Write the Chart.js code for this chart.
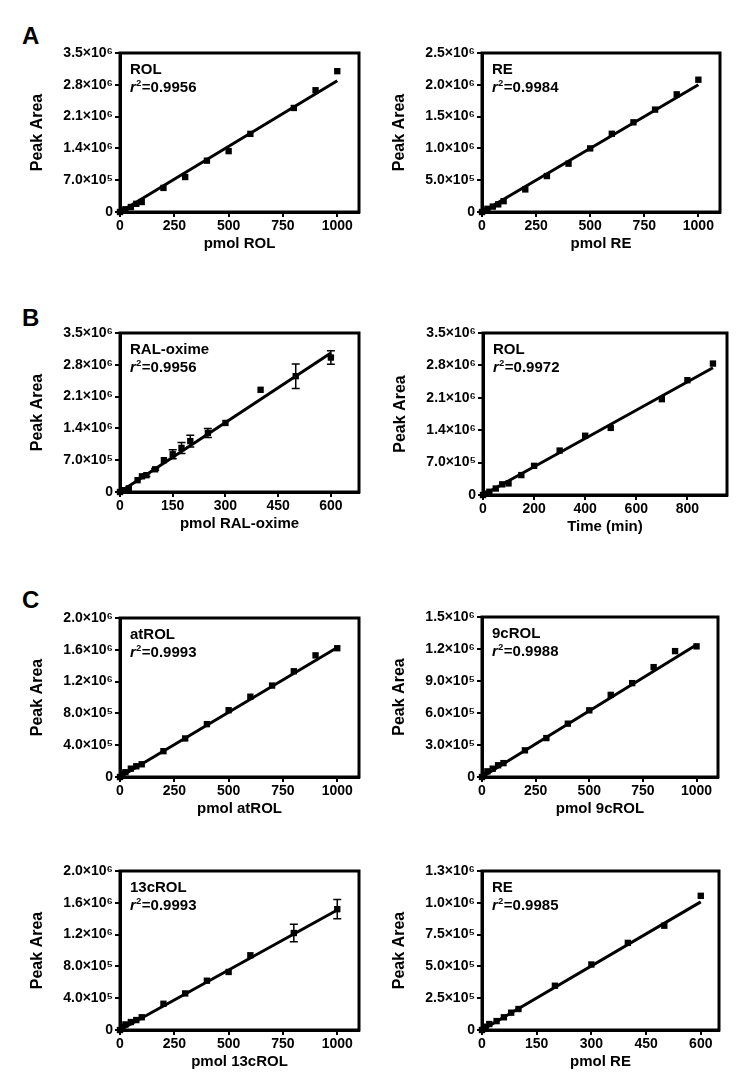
<!DOCTYPE html>
<html><head><meta charset="utf-8">
<script src="https://cdn.jsdelivr.net/npm/chart.js@4/dist/chart.umd.min.js"></script>
<style>
html,body{margin:0;padding:0;background:#fff;}
#wrap{position:relative;width:750px;height:1087px;overflow:hidden;background:#fff;}
#wrap canvas{position:absolute;}
.lbl{position:absolute;font:bold 24px "Liberation Sans",Arial,sans-serif;line-height:24px;color:#000;}
</style></head><body>
<div id="wrap">
<div class="lbl" style="left:22px;top:24px">A</div>
<div class="lbl" style="left:22px;top:306px">B</div>
<div class="lbl" style="left:22px;top:588px">C</div>
</div>
<script>
// ---------- DATA ----------
// Panel A left: ROL
const aRolX = [0, 10, 25, 50, 75, 100, 200, 300, 400, 500, 600, 800, 900, 1000];
const aRolY = [0, 0.03e6, 0.06e6, 0.11e6, 0.18e6, 0.22e6, 0.53e6, 0.77e6, 1.13e6, 1.34e6, 1.72e6, 2.29e6, 2.68e6, 3.10e6];
const aRolFitX = [0, 1000];
const aRolFitY = [0, 2.89e6];
// Panel A right: RE
const aReX = [0, 10, 25, 50, 75, 100, 200, 300, 400, 500, 600, 700, 800, 900, 1000];
const aReY = [0, 0.02e6, 0.05e6, 0.085e6, 0.12e6, 0.17e6, 0.355e6, 0.565e6, 0.76e6, 1.0e6, 1.23e6, 1.41e6, 1.61e6, 1.85e6, 2.08e6];
const aReFitX = [0, 1000];
const aReFitY = [0, 2.0e6];
// Panel B left: RAL-oxime (with SD)
const bOxX = [0, 12.5, 25, 50, 62.5, 75, 100, 125, 150, 175, 200, 250, 300, 400, 500, 600];
const bOxY = [0, 0.04e6, 0.08e6, 0.26e6, 0.345e6, 0.37e6, 0.50e6, 0.70e6, 0.83e6, 0.97e6, 1.12e6, 1.30e6, 1.52e6, 2.25e6, 2.55e6, 2.96e6];
const bOxErr = [0, 0, 0, 0, 0, 0.03e6, 0.02e6, 0, 0.10e6, 0.12e6, 0.13e6, 0.10e6, 0, 0, 0.27e6, 0.15e6];
const bOxFitX = [0, 600];
const bOxFitY = [0, 3.06e6];
// Panel B right: ROL vs time
const bTimeX = [0, 10, 25, 50, 75, 100, 150, 200, 300, 400, 500, 700, 800, 900];
const bTimeY = [0, 0.03e6, 0.07e6, 0.14e6, 0.23e6, 0.25e6, 0.43e6, 0.63e6, 0.96e6, 1.28e6, 1.45e6, 2.07e6, 2.48e6, 2.84e6];
const bTimeFitX = [0, 900];
const bTimeFitY = [0, 2.75e6];
// Panel C: atROL
const cAtX = [0, 10, 25, 50, 75, 100, 200, 300, 400, 500, 600, 700, 800, 900, 1000];
const cAtY = [0, 0.04e6, 0.06e6, 0.105e6, 0.135e6, 0.16e6, 0.325e6, 0.485e6, 0.665e6, 0.84e6, 1.01e6, 1.15e6, 1.33e6, 1.53e6, 1.62e6];
const cAtFitX = [0, 1000];
const cAtFitY = [0, 1.63e6];
// Panel C: 9cROL
const c9X = [0, 10, 25, 50, 75, 100, 200, 300, 400, 500, 600, 700, 800, 900, 1000];
const c9Y = [0, 0.02e6, 0.053e6, 0.078e6, 0.11e6, 0.13e6, 0.25e6, 0.365e6, 0.50e6, 0.625e6, 0.77e6, 0.88e6, 1.03e6, 1.18e6, 1.225e6];
const c9FitX = [0, 1000];
const c9FitY = [0, 1.24e6];
// Panel C: 13cROL (with SD)
const c13X = [0, 10, 25, 50, 75, 100, 200, 300, 400, 500, 600, 800, 1000];
const c13Y = [0, 0.04e6, 0.07e6, 0.10e6, 0.125e6, 0.16e6, 0.33e6, 0.46e6, 0.62e6, 0.73e6, 0.94e6, 1.22e6, 1.52e6];
const c13Err = [0, 0, 0, 0, 0, 0, 0, 0, 0, 0, 0, 0.11e6, 0.12e6];
const c13FitX = [0, 1000];
const c13FitY = [0, 1.51e6];
// Panel C: RE
const cReX = [0, 10, 20, 40, 60, 80, 100, 200, 300, 400, 500, 600];
const cReY = [0, 0.026e6, 0.047e6, 0.07e6, 0.10e6, 0.136e6, 0.165e6, 0.348e6, 0.515e6, 0.685e6, 0.82e6, 1.055e6];
const cReFitX = [0, 600];
const cReFitY = [0, 1.007e6];

// Tick values / labels
const xTicks1000 = [0, 250, 500, 750, 1000];
const xTicks600 = [0, 150, 300, 450, 600];
const xTicks800 = [0, 200, 400, 600, 800];
const yVals35 = [0, 0.7e6, 1.4e6, 2.1e6, 2.8e6, 3.5e6];
const yLabels35 = ["0", "7.0×10⁵", "1.4×10⁶", "2.1×10⁶", "2.8×10⁶", "3.5×10⁶"];
const yVals25 = [0, 0.5e6, 1.0e6, 1.5e6, 2.0e6, 2.5e6];
const yLabels25 = ["0", "5.0×10⁵", "1.0×10⁶", "1.5×10⁶", "2.0×10⁶", "2.5×10⁶"];
const yVals20 = [0, 0.4e6, 0.8e6, 1.2e6, 1.6e6, 2.0e6];
const yLabels20 = ["0", "4.0×10⁵", "8.0×10⁵", "1.2×10⁶", "1.6×10⁶", "2.0×10⁶"];
const yVals15 = [0, 0.3e6, 0.6e6, 0.9e6, 1.2e6, 1.5e6];
const yLabels15 = ["0", "3.0×10⁵", "6.0×10⁵", "9.0×10⁵", "1.2×10⁶", "1.5×10⁶"];
const yVals13 = [0, 0.25e6, 0.5e6, 0.75e6, 1.0e6, 1.25e6];
const yLabels13 = ["0", "2.5×10⁵", "5.0×10⁵", "7.5×10⁵", "1.0×10⁶", "1.3×10⁶"];

const names = ["ROL", "RE", "RAL-oxime", "ROL", "atROL", "9cROL", "13cROL", "RE"];
const r2Values = ["0.9956", "0.9984", "0.9956", "0.9972", "0.9993", "0.9988", "0.9993", "0.9985"];
const xTitles = ["pmol ROL", "pmol RE", "pmol RAL-oxime", "Time (min)", "pmol atROL", "pmol 9cROL", "pmol 13cROL", "pmol RE"];

// ---------- LAYOUT ----------
const FAM = '"Liberation Sans", Arial, sans-serif';
Chart.defaults.font.family = FAM;
Chart.defaults.color = '#000';

const panels = [
  {box:[120,53,359,212], x:aRolX, y:aRolY, fx:aRolFitX, fy:aRolFitY, xMax:1100, xT:xTicks1000, yV:yVals35, yL:yLabels35},
  {box:[482,53,720,212], x:aReX, y:aReY, fx:aReFitX, fy:aReFitY, xMax:1100, xT:xTicks1000, yV:yVals25, yL:yLabels25},
  {box:[120,333,359,492], x:bOxX, y:bOxY, err:bOxErr, fx:bOxFitX, fy:bOxFitY, xMax:680, xT:xTicks600, yV:yVals35, yL:yLabels35},
  {box:[483,333,727,495], x:bTimeX, y:bTimeY, fx:bTimeFitX, fy:bTimeFitY, xMax:955, xT:xTicks800, yV:yVals35, yL:yLabels35},
  {box:[120,618,359,777], x:cAtX, y:cAtY, fx:cAtFitX, fy:cAtFitY, xMax:1100, xT:xTicks1000, yV:yVals20, yL:yLabels20},
  {box:[482,617,718,777], x:c9X, y:c9Y, fx:c9FitX, fy:c9FitY, xMax:1100, xT:xTicks1000, yV:yVals15, yL:yLabels15},
  {box:[120,871,359,1030], x:c13X, y:c13Y, err:c13Err, fx:c13FitX, fy:c13FitY, xMax:1100, xT:xTicks1000, yV:yVals20, yL:yLabels20},
  {box:[482,871,719,1030], x:cReX, y:cReY, fx:cReFitX, fy:cReFitY, xMax:650, xT:xTicks600, yV:yVals13, yL:yLabels13}
];

const wrap = document.getElementById('wrap');
const PL = 110, PT = 20, PR = 20, PB = 50;

function zeroPad(s){ s.paddingLeft = 0; s.paddingRight = 0; s.paddingTop = 0; s.paddingBottom = 0; }

function makePanel(p, idx) {
  const w = (p.box[2] - p.box[0]) + PL + PR;
  const h = (p.box[3] - p.box[1]) + PT + PB;
  const c = document.createElement('canvas');
  c.width = w; c.height = h;
  c.style.left = (p.box[0] - PL) + 'px';
  c.style.top = (p.box[1] - PT) + 'px';
  c.style.width = w + 'px'; c.style.height = h + 'px';
  wrap.appendChild(c);

  const frame = {
    id: 'frame' + idx,
    beforeDatasetsDraw(ch) {
      const a = ch.chartArea, ctx = ch.ctx;
      ctx.save(); ctx.strokeStyle = '#000'; ctx.lineWidth = 3;
      ctx.strokeRect(a.left, a.top, a.right - a.left, a.bottom - a.top);
      ctx.restore();
    },
    afterDatasetsDraw(ch) {
      if (!p.err) return;
      const xs = ch.scales.x, ys = ch.scales.y, ctx = ch.ctx;
      ctx.save(); ctx.strokeStyle = '#000'; ctx.lineWidth = 1.5;
      p.err.forEach((e, i) => {
        if (!e) return;
        const px = xs.getPixelForValue(p.x[i]);
        const y1 = ys.getPixelForValue(p.y[i] + e), y2 = ys.getPixelForValue(p.y[i] - e);
        ctx.beginPath();
        ctx.moveTo(px, y1); ctx.lineTo(px, y2);
        ctx.moveTo(px - 4, y1); ctx.lineTo(px + 4, y1);
        ctx.moveTo(px - 4, y2); ctx.lineTo(px + 4, y2);
        ctx.stroke();
      });
      ctx.restore();
    },
    afterDraw(ch) {
      const a = ch.chartArea, ctx = ch.ctx;
      const x = a.left + 10;
      ctx.save(); ctx.fillStyle = '#000'; ctx.textAlign = 'left'; ctx.textBaseline = 'alphabetic';
      ctx.font = 'bold 15px ' + FAM;
      ctx.fillText(names[idx], x, a.top + 20.5);
      ctx.font = 'italic bold 15px ' + FAM;
      ctx.fillText('r', x, a.top + 38.5);
      const wr = ctx.measureText('r').width;
      ctx.font = 'bold 9px ' + FAM;
      ctx.fillText('2', x + wr + 0.5, a.top + 32.5);
      const w2 = ctx.measureText('2').width;
      ctx.font = 'bold 15px ' + FAM;
      ctx.fillText('=' + r2Values[idx], x + wr + w2 + 1, a.top + 38.5);
      ctx.restore();
    }
  };

  new Chart(c, {
    type: 'scatter',
    data: {
      datasets: [
        {type: 'scatter', data: p.x.map((v, i) => ({x: v, y: p.y[i]})),
         pointStyle: 'rect', pointRadius: 4.5, backgroundColor: '#000', borderWidth: 0, clip: false, order: 1},
        {type: 'line', data: p.fx.map((v, i) => ({x: v, y: p.fy[i]})),
         borderColor: '#000', borderWidth: 3, pointRadius: 0, fill: false, clip: false, order: 2}
      ]
    },
    options: {
      responsive: false, animation: false, devicePixelRatio: 1,
      layout: {padding: {left: 0, top: PT, right: PR, bottom: 0}, autoPadding: false},
      plugins: {legend: {display: false}, tooltip: {enabled: false}},
      scales: {
        x: {
          type: 'linear', min: 0, max: p.xMax,
          afterBuildTicks: s => { s.ticks = p.xT.map(v => ({value: v})); },
          afterFit: s => { s.height = PB; zeroPad(s); },
          ticks: {autoSkip: false, maxRotation: 0, minRotation: 0, padding: 1, color: '#000',
                  font: {size: 14, weight: 'bold'}, callback: (v, i) => String(p.xT[i])},
          grid: {display: true, drawOnChartArea: false, drawTicks: true, tickLength: 5, color: '#000', lineWidth: 2},
          border: {display: true, color: '#000', width: 3},
          title: {display: true, text: xTitles[idx], color: '#000', font: {size: 15, weight: 'bold'}, padding: {top: 0, bottom: 8.7}}
        },
        y: {
          type: 'linear', min: 0, max: p.yV[p.yV.length - 1],
          afterBuildTicks: s => { s.ticks = p.yV.map(v => ({value: v})); },
          afterFit: s => { s.width = PL; zeroPad(s); },
          ticks: {autoSkip: false, padding: 2, color: '#000', font: {size: 14, weight: 'bold'},
                  callback: (v, i) => p.yL[i]},
          grid: {display: true, drawOnChartArea: false, drawTicks: true, tickLength: 5, color: '#000', lineWidth: 2},
          border: {display: true, color: '#000', width: 3},
          title: {display: true, text: 'Peak Area', color: '#000', font: {size: 16, weight: 'bold'}, padding: {top: 17.9, bottom: 0}}
        }
      }
    },
    plugins: [frame]
  });
}

panels.forEach((p, i) => makePanel(p, i));
</script>
</body></html>
